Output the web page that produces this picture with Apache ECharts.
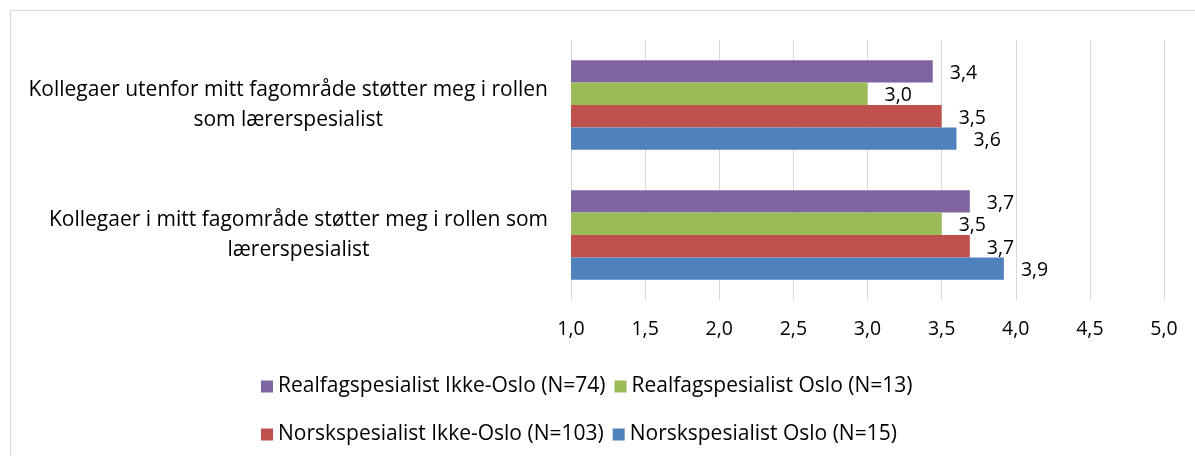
<!DOCTYPE html>
<html>
<head>
<meta charset="utf-8">
<script src="https://cdn.jsdelivr.net/npm/echarts@6/dist/echarts.min.js"></script>
<style>
  html, body { margin: 0; padding: 0; background: #fff; }
  #chart { width: 1195px; height: 456px; position: relative; }
  #frame { position: absolute; left: 10px; top: 10px; width: 1200px; height: 460px; border: 1px solid #d9d9d9; box-sizing: border-box; pointer-events: none; }
</style>
</head>
<body>
<div id="frame"></div>
<div id="chart"></div>
<script>
// categories, bottom to top
const categories = [
  'Kollegaer i mitt fagområde støtter meg i rollen som\nlærerspesialist',
  'Kollegaer utenfor mitt fagområde støtter meg i rollen\nsom lærerspesialist'
]
const norskOslo = [3.92, 3.60]
const norskIkkeOslo = [3.69, 3.50]
const realfagOslo = [3.50, 3.00]
const realfagIkkeOslo = [3.69, 3.44]

const seriesNames = [
  'Norskspesialist Oslo (N=15)',
  'Norskspesialist Ikke-Oslo (N=103)',
  'Realfagspesialist Oslo (N=13)',
  'Realfagspesialist Ikke-Oslo (N=74)'
]
const colors = ['#4F81BD', '#C0504D', '#9BBB59', '#8064A2']

const font = 'Open Sans'
const textSize = 21
const numSize = 19.5
const fmt = (v) => v.toFixed(1).replace('.', ',')

const chart = echarts.init(document.getElementById('chart'))

const makeSeries = (name, data, color) => ({
  name: name,
  type: 'bar',
  data: data,
  barGap: '0%',
  barCategoryGap: '31%',
  itemStyle: { color: color },
  label: {
    show: true,
    position: 'right',
    distance: 17,
    color: '#000',
    fontFamily: font,
    fontSize: numSize,
    offset: [0, 2],
    formatter: (p) => fmt(p.value)
  }
})

const legendText = { color: '#000', fontFamily: font, fontSize: textSize }

chart.setOption({
  animation: false,
  grid: { left: 571, right: 31, top: 40, bottom: 156 },
  legend: [
    {
      data: [seriesNames[3], seriesNames[2]],
      left: 256,
      top: 371,
      icon: 'rect',
      itemWidth: 12,
      itemHeight: 12,
      itemGap: 9,
      textStyle: legendText
    },
    {
      data: [seriesNames[1], seriesNames[0]],
      left: 256,
      top: 419,
      icon: 'rect',
      itemWidth: 12,
      itemHeight: 12,
      itemGap: 9,
      textStyle: legendText
    }
  ],
  xAxis: {
    type: 'value',
    min: 1,
    max: 5,
    interval: 0.5,
    axisLine: { show: false },
    axisTick: { show: false },
    splitLine: { lineStyle: { color: '#d9d9d9', width: 1 } },
    axisLabel: {
      color: '#000',
      fontFamily: font,
      fontSize: numSize,
      margin: 19,
      formatter: (v) => fmt(v)
    }
  },
  yAxis: {
    type: 'category',
    data: categories,
    axisLine: { show: false },
    axisTick: { show: false },
    axisLabel: {
      align: 'right',
      margin: 23,
      formatter: (v) => v.split('\n').map((s) => '{c|' + s + '}').join('\n'),
      rich: {
        c: { align: 'center', color: '#000', fontFamily: font, fontSize: textSize, lineHeight: 30 }
      }
    }
  },
  // first series is drawn at the top of each group
  series: [
    makeSeries(seriesNames[3], realfagIkkeOslo, colors[3]),
    makeSeries(seriesNames[2], realfagOslo, colors[2]),
    makeSeries(seriesNames[1], norskIkkeOslo, colors[1]),
    makeSeries(seriesNames[0], norskOslo, colors[0])
  ]
})
</script>
</body>
</html>
